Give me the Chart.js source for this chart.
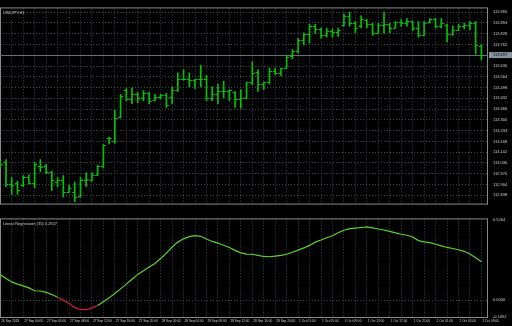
<!DOCTYPE html>
<html lang="en">
<head>
<meta charset="UTF-8">
<title>USDJPY,H1</title>
<script src="https://cdn.jsdelivr.net/npm/chart.js"></script>
<style>
  html, body { margin: 0; padding: 0; background: #000; }
  body { width: 512px; height: 326px; position: relative; overflow: hidden; }
  .pane { position: absolute; left: 0; width: 512px; }
  #mainPane { top: 0; height: 212px; }
  #indPane { top: 211px; height: 115px; }
</style>
</head>
<body>
<div class="pane" id="mainPane"><canvas id="priceChart"></canvas></div>
<div class="pane" id="indPane"><canvas id="indChart"></canvas></div>

<script>
// H1 bars, 26 Sep 2018 20:00 -> 2 Oct 2018 09:00
const opens = [113.027, 113.039, 112.907, 112.913, 112.901, 112.953, 112.913, 113.016, 113.016, 112.982,
  112.919, 112.930, 112.861, 112.856, 112.833, 112.930, 112.930, 112.964, 113.016, 113.188,
  113.171, 113.319, 113.480, 113.428, 113.457, 113.434, 113.462, 113.422, 113.440, 113.451,
  113.440, 113.480, 113.548, 113.548, 113.543, 113.548, 113.548, 113.434, 113.457, 113.474,
  113.474, 113.468, 113.428, 113.434, 113.531, 113.594, 113.520, 113.531, 113.600, 113.588,
  113.617, 113.691, 113.720, 113.789, 113.829, 113.874, 113.857, 113.823, 113.846, 113.840,
  113.880, 113.937, 113.892, 113.874, 113.909, 113.886, 113.834, 113.880, 113.886, 113.863,
  113.897, 113.892, 113.903, 113.863, 113.817, 113.897, 113.915, 113.874, 113.880, 113.829,
  113.852, 113.874, 113.880, 113.892, 113.754];
const highs = [113.045, 113.056, 112.947, 112.924, 112.959, 112.964, 113.039, 113.056, 113.027, 112.987,
  112.947, 112.959, 112.901, 112.919, 112.947, 112.976, 112.976, 113.022, 113.148, 113.193,
  113.359, 113.457, 113.491, 113.497, 113.468, 113.480, 113.468, 113.457, 113.457, 113.462,
  113.503, 113.588, 113.606, 113.588, 113.548, 113.634, 113.571, 113.503, 113.520, 113.537,
  113.485, 113.474, 113.485, 113.531, 113.657, 113.606, 113.531, 113.617, 113.617, 113.617,
  113.691, 113.731, 113.800, 113.834, 113.886, 113.886, 113.863, 113.863, 113.857, 113.863,
  113.949, 113.960, 113.903, 113.937, 113.915, 113.892, 113.892, 113.960, 113.892, 113.903,
  113.915, 113.920, 113.903, 113.903, 113.903, 113.920, 113.920, 113.920, 113.886, 113.874,
  113.886, 113.892, 113.903, 113.903, 113.760];
const lows = [113.010, 112.890, 112.844, 112.844, 112.890, 112.907, 112.884, 112.982, 112.970, 112.867,
  112.890, 112.827, 112.856, 112.798, 112.827, 112.890, 112.924, 112.959, 113.005, 113.153,
  113.159, 113.314, 113.417, 113.399, 113.405, 113.417, 113.399, 113.417, 113.428, 113.377,
  113.399, 113.474, 113.543, 113.503, 113.491, 113.503, 113.417, 113.417, 113.399, 113.434,
  113.417, 113.377, 113.371, 113.428, 113.514, 113.474, 113.485, 113.520, 113.577, 113.571,
  113.617, 113.674, 113.709, 113.760, 113.771, 113.829, 113.800, 113.806, 113.806, 113.812,
  113.874, 113.874, 113.834, 113.863, 113.863, 113.817, 113.829, 113.829, 113.834, 113.863,
  113.874, 113.874, 113.846, 113.806, 113.817, 113.892, 113.863, 113.863, 113.777, 113.817,
  113.846, 113.857, 113.852, 113.703, 113.668];
const closes = [113.027, 112.907, 112.901, 112.873, 112.947, 112.913, 113.027, 113.010, 112.982, 112.930,
  112.930, 112.856, 112.884, 112.827, 112.930, 112.936, 112.964, 113.016, 113.148, 113.188,
  113.314, 113.445, 113.428, 113.457, 113.434, 113.462, 113.417, 113.440, 113.451, 113.394,
  113.480, 113.548, 113.548, 113.543, 113.548, 113.548, 113.434, 113.457, 113.474, 113.474,
  113.480, 113.428, 113.434, 113.531, 113.588, 113.520, 113.531, 113.600, 113.588, 113.617,
  113.686, 113.720, 113.789, 113.829, 113.874, 113.857, 113.823, 113.846, 113.840, 113.852,
  113.937, 113.892, 113.863, 113.920, 113.886, 113.834, 113.880, 113.886, 113.863, 113.897,
  113.892, 113.903, 113.863, 113.817, 113.892, 113.915, 113.874, 113.892, 113.829, 113.852,
  113.874, 113.880, 113.892, 113.760, 113.697];

// indicator values, one per bar
const regression = [0.1658, 0.1413, 0.1193, 0.1047, 0.0937, 0.0802, 0.0619, 0.0600, 0.0515, 0.0374,
  0.0191, 0.0008, -0.0200, -0.0481, -0.0604, -0.0610, -0.0495, -0.0341, -0.0096, 0.0154,
  0.0436, 0.0741, 0.1047, 0.1365, 0.1682, 0.1921, 0.2165, 0.2391, 0.2721, 0.3064,
  0.3467, 0.3785, 0.3999, 0.4139, 0.4207, 0.4164, 0.3987, 0.3828, 0.3724, 0.3583,
  0.3430, 0.3247, 0.3082, 0.3003, 0.2995, 0.2923, 0.2850, 0.2831, 0.2868, 0.2923,
  0.2996, 0.3125, 0.3265, 0.3406, 0.3571, 0.3785, 0.3919, 0.4066, 0.4201, 0.4396,
  0.4561, 0.4665, 0.4702, 0.4738, 0.4775, 0.4714, 0.4641, 0.4573, 0.4488, 0.4384,
  0.4298, 0.4231, 0.4115, 0.3883, 0.3797, 0.3754, 0.3644, 0.3540, 0.3437, 0.3369,
  0.3290, 0.3186, 0.3015, 0.2770, 0.2501];
const RED_FROM = 10, RED_TO = 17;   // falling part drawn in red

// axis labels
const timeLabels = ['26 Sep 2018', '27 Sep 00:00', '27 Sep 04:00', '27 Sep 08:00', '27 Sep 12:00',
  '27 Sep 16:00', '27 Sep 20:00', '28 Sep 00:00', '28 Sep 04:00', '28 Sep 08:00', '28 Sep 12:00',
  '28 Sep 16:00', '28 Sep 20:00', '1 Oct 01:00', '1 Oct 05:00', '1 Oct 09:00', '1 Oct 13:00',
  '1 Oct 17:00', '1 Oct 21:00', '2 Oct 01:00', '2 Oct 05:00', '2 Oct 09:00'];
const priceTicks = [113.960, 113.894, 113.828, 113.762, 113.630, 113.564, 113.498, 113.432, 113.366,
  113.300, 113.234, 113.168, 113.102, 113.036, 112.970, 112.904, 112.838];
const indTicks = [0.5264, 0, -0.1092];

const SYMBOL = 'USDJPY,H1';
const IND_NAME = 'Linear Regression (35) 0.2927';

// look
const BAR_GREEN = '#00c400';
const LINE_GREEN = '#5cd42c';
const LINE_RED = '#d41a40';
const GRID = '#3e4852';
const FRAME = '#8a8a8a';
const TXT = '#d0d0d0';
const FONT = 'Liberation Sans';
const X_MIN = -0.05, X_MAX = 84.98;
const P_MIN = 112.787, P_MAX = 113.983;

const barIdx = opens.map((_, i) => i);
const gridIdx = barIdx.filter(i => i % 2 === 0);
const lastClose = closes[closes.length - 1];

// thin frame round the plot area
const frame = {
    id: 'frame',
    beforeDatasetsDraw(chart) {
        const { ctx, chartArea: a } = chart;
        ctx.save();
        ctx.strokeStyle = FRAME;
        ctx.lineWidth = 1;
        ctx.strokeRect(a.left + 0.5, a.top - 0.5, a.right - a.left, a.bottom - a.top + 1);
        ctx.restore();
    }
};

// open (left) and close (right) ticks of each bar
const ohlcTicks = {
    id: 'ohlcTicks',
    afterDatasetsDraw(chart) {
        const { ctx, scales: { x, y } } = chart;
        ctx.save();
        ctx.strokeStyle = BAR_GREEN;
        ctx.lineWidth = 1;
        ctx.beginPath();
        opens.forEach((o, i) => {
            const px = x.getPixelForValue(i);
            const yo = Math.round(y.getPixelForValue(o)) + 0.5;
            const yc = Math.round(y.getPixelForValue(closes[i])) + 0.5;
            ctx.moveTo(px - 2.5, yo); ctx.lineTo(px, yo);
            ctx.moveTo(px, yc); ctx.lineTo(px + 2.5, yc);
        });
        ctx.stroke();
        ctx.restore();
    }
};

// bid line + its label on the price axis
const bidLine = {
    id: 'bidLine',
    beforeDatasetsDraw(chart) {
        const { ctx, chartArea: a, scales: { y } } = chart;
        const py = Math.round(y.getPixelForValue(lastClose)) + 0.5;
        ctx.save();
        ctx.strokeStyle = '#66707c';
        ctx.lineWidth = 1;
        ctx.beginPath();
        ctx.moveTo(a.left, py); ctx.lineTo(a.right, py);
        ctx.stroke();
        ctx.restore();
    },
    afterDraw(chart) {
        const { ctx, chartArea: a, scales: { y } } = chart;
        const py = y.getPixelForValue(lastClose);
        ctx.save();
        ctx.fillStyle = '#8794a2';
        ctx.fillRect(a.right + 2, py - 3, 23, 6);
        ctx.fillStyle = '#000';
        ctx.font = '4px "' + FONT + '"';
        ctx.textBaseline = 'middle';
        ctx.fillText(lastClose.toFixed(3), a.right + 6, py);
        ctx.restore();
    }
};

function paneTitle(text) {
    return {
        id: 'paneTitle',
        afterDraw(chart) {
            const { ctx, chartArea: a } = chart;
            ctx.save();
            ctx.fillStyle = TXT;
            ctx.font = '4px "' + FONT + '"';
            ctx.textBaseline = 'top';
            ctx.fillText(text, a.left + 3, a.top + 2);
            ctx.restore();
        }
    };
}

const tickFont = { family: FONT, size: 4 };

new Chart(document.getElementById('priceChart'), {
    type: 'bar',
    data: {
        datasets: [{
            data: barIdx.map(i => ({ x: i, y: [lows[i], highs[i]] })),
            backgroundColor: BAR_GREEN,
            borderWidth: 0,
            barThickness: 1
        }]
    },
    options: {
        responsive: true,
        maintainAspectRatio: false,
        animation: false,
        layout: { padding: { top: 1, bottom: 2, left: 0, right: 0 } },
        plugins: { legend: { display: false }, tooltip: { enabled: false } },
        scales: {
            x: {
                type: 'linear', min: X_MIN, max: X_MAX, offset: false,
                afterBuildTicks: ax => { ax.ticks = gridIdx.map(v => ({ value: v })); },
                afterFit: ax => { ax.height = 0; ax.paddingLeft = 0; ax.paddingRight = 0; },
                ticks: { display: false },
                grid: { color: GRID, drawTicks: false, offset: false },
                border: { display: false, dash: [1, 2] }
            },
            y: {
                position: 'right', min: P_MIN, max: P_MAX,
                afterBuildTicks: ax => { ax.ticks = priceTicks.map(v => ({ value: v })); },
                afterFit: ax => { ax.width = 25; },
                ticks: { color: TXT, font: tickFont, padding: 6, callback: v => v.toFixed(3) },
                grid: { color: GRID, drawTicks: false },
                border: { display: false, dash: [1, 2] }
            }
        }
    },
    plugins: [frame, bidLine, ohlcTicks, paneTitle(SYMBOL)]
});

new Chart(document.getElementById('indChart'), {
    type: 'line',
    data: {
        datasets: [{
            data: barIdx.map(i => ({ x: i, y: regression[i] })),
            borderColor: LINE_GREEN,
            borderWidth: 1.2,
            pointRadius: 0,
            tension: 0,
            segment: {
                borderColor: c => (c.p0DataIndex >= RED_FROM && c.p1DataIndex <= RED_TO) ? LINE_RED : LINE_GREEN
            }
        }]
    },
    options: {
        responsive: true,
        maintainAspectRatio: false,
        animation: false,
        layout: { padding: { top: 2, bottom: 0, left: 0, right: 0 } },
        plugins: { legend: { display: false }, tooltip: { enabled: false } },
        scales: {
            x: {
                type: 'linear', min: X_MIN, max: X_MAX, offset: false,
                afterBuildTicks: ax => { ax.ticks = gridIdx.map(v => ({ value: v })); },
                afterFit: ax => { ax.height = 9; ax.paddingLeft = 0; ax.paddingRight = 0; },
                ticks: {
                    color: TXT, font: { family: FONT, size: 3.2 }, padding: 2, align: 'start',
                    maxRotation: 0, autoSkip: false, labelOffset: 1,
                    callback: v => (v % 4 === 0 ? timeLabels[v / 4] : '')
                },
                grid: { color: GRID, drawTicks: false, offset: false },
                border: { display: false, dash: [1, 2] }
            },
            y: {
                position: 'right', min: indTicks[2], max: indTicks[0],
                afterBuildTicks: ax => { ax.ticks = indTicks.map(v => ({ value: v })); },
                afterFit: ax => { ax.width = 25; },
                ticks: { color: TXT, font: tickFont, padding: 6, callback: v => v.toFixed(4) },
                grid: { color: c => (c.tick && c.tick.value === 0 ? GRID : 'rgba(0,0,0,0)'), drawTicks: false },
                border: { display: false, dash: [1, 2] }
            }
        }
    },
    plugins: [frame, paneTitle(IND_NAME)]
});
</script>
</body>
</html>
